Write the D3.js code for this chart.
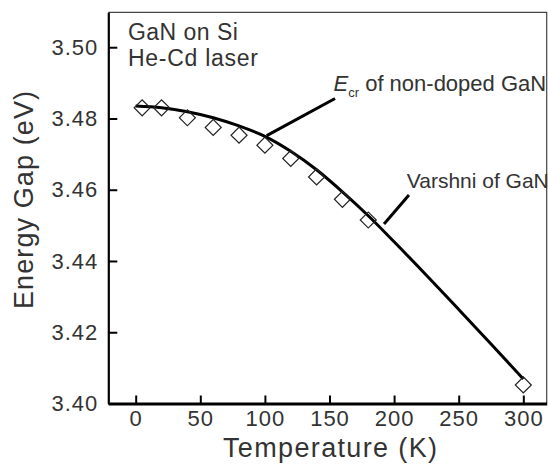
<html>
  <meta charset="utf-8">
  <head>
  <style>
    body {
      margin: 0;
      background: #fff;
    }
    text {
      font-family: "Liberation Sans", Arial, sans-serif;
      fill: #333;
    }
  </style>
  </head>
  <body>
    <div id="elm"></div>

    <script src="https://cdn.jsdelivr.net/npm/d3@7"></script>
    <script>

    'use strict';

    // measured points (diamonds)
    var tempK = [5, 20, 40, 60, 80, 100, 120, 140, 160, 180, 300];
    var gapEv = [3.4830, 3.4830, 3.4802, 3.4775, 3.4753, 3.4725, 3.4688, 3.4636, 3.4573, 3.4515, 3.4052];

    // Varshni fit line
    var fitT = [0, 20, 40, 60, 80, 100, 120, 140, 160, 180, 200, 225, 250, 275, 300];
    var fitE = [3.4835, 3.4830, 3.4819, 3.4802, 3.4779, 3.4750, 3.4708, 3.4656, 3.4594, 3.4527, 3.4454, 3.4360, 3.4264, 3.4167, 3.4069];

    var xTicks = [0, 50, 100, 150, 200, 250, 300];
    var yTicks = [3.40, 3.42, 3.44, 3.46, 3.48, 3.50];

    var W = 548, H = 464;

    var x = d3.scaleLinear().domain([-21.2, 318.1]).range([108.3, 546.7]);
    var y = d3.scaleLinear().domain([3.40, 3.5098]).range([403.5, 12.3]);

    var svg = d3.select('#elm').append('svg')
        .attr('width', W)
        .attr('height', H);

    // top / right frame
    svg.append('path')
        .attr('d', 'M' + x.range()[0] + ',' + y.range()[1] + 'H' + x.range()[1] + 'V' + y.range()[0])
        .attr('fill', 'none')
        .attr('stroke', '#444')
        .attr('stroke-width', 1.2);

    var xAxis = d3.axisBottom(x)
        .tickValues(xTicks)
        .tickSizeInner(-8)
        .tickSizeOuter(0)
        .tickPadding(7)
        .tickFormat(d3.format('d'));

    var gx = svg.append('g')
        .attr('transform', 'translate(0,' + y.range()[0] + ')')
        .call(xAxis);
    gx.select('.domain').attr('stroke', '#000').attr('stroke-width', 3);
    gx.selectAll('.tick line').attr('stroke', '#000').attr('stroke-width', 2);
    gx.selectAll('.tick text')
        .attr('font-size', 22)
        .style('letter-spacing', '1px')
        .attr('fill', '#333');

    var yAxis = d3.axisLeft(y)
        .tickValues(yTicks)
        .tickSizeInner(-9)
        .tickSizeOuter(0)
        .tickPadding(10)
        .tickFormat(d3.format('.2f'));

    var gy = svg.append('g')
        .attr('transform', 'translate(' + x.range()[0] + ',0)')
        .call(yAxis);
    gy.select('.domain').attr('stroke', '#000').attr('stroke-width', 2.2);
    gy.selectAll('.tick line').attr('stroke', '#000').attr('stroke-width', 2);
    gy.selectAll('.tick text')
        .attr('font-size', 22)
        .style('letter-spacing', '1px')
        .attr('fill', '#333');

    // axis titles
    svg.append('text')
        .attr('x', 330)
        .attr('y', 457)
        .attr('text-anchor', 'middle')
        .attr('font-size', 27)
        .attr('textLength', 214)
        .attr('lengthAdjust', 'spacing')
        .text('Temperature (K)');

    svg.append('text')
        .attr('transform', 'translate(33,200) rotate(-90)')
        .attr('text-anchor', 'middle')
        .attr('font-size', 27)
        .attr('textLength', 218)
        .attr('lengthAdjust', 'spacing')
        .text('Energy Gap (eV)');

    // fit curve
    var fit = fitT.map(function(t, i) { return [t, fitE[i]]; });
    svg.append('path')
        .datum(fit)
        .attr('fill', 'none')
        .attr('stroke', '#000')
        .attr('stroke-width', 3)
        .attr('d', d3.line()
            .x(function(d) { return x(d[0]); })
            .y(function(d) { return y(d[1]); })
            .curve(d3.curveMonotoneX));

    // pointers
    var pointers = [
      [[101.4, 3.4752], [154.3, 3.4856]],
      [[192.2, 3.4504], [211.5, 3.4585]]
    ];
    svg.selectAll('.ptr')
        .data(pointers)
        .enter().append('line')
        .attr('class', 'ptr')
        .attr('x1', function(d) { return x(d[0][0]); })
        .attr('y1', function(d) { return y(d[0][1]); })
        .attr('x2', function(d) { return x(d[1][0]); })
        .attr('y2', function(d) { return y(d[1][1]); })
        .attr('stroke', '#000')
        .attr('stroke-width', 3);

    // diamonds
    var pts = tempK.map(function(t, i) { return [t, gapEv[i]]; });
    svg.selectAll('.pt')
        .data(pts)
        .enter().append('path')
        .attr('class', 'pt')
        .attr('d', d3.symbol(d3.symbolSquare).size(128))
        .attr('transform', function(d) { return 'translate(' + x(d[0]) + ',' + y(d[1]) + ') rotate(45)'; })
        .attr('fill', 'none')
        .attr('stroke', '#222')
        .attr('stroke-width', 1.2);

    // labels
    svg.append('text')
        .attr('x', x(-6))
        .attr('y', y(3.5021))
        .attr('font-size', 23)
        .attr('textLength', 110)
        .attr('lengthAdjust', 'spacing')
        .text('GaN on Si');

    svg.append('text')
        .attr('x', x(-6))
        .attr('y', y(3.4947))
        .attr('font-size', 23)
        .attr('textLength', 130)
        .attr('lengthAdjust', 'spacing')
        .text('He-Cd laser');

    var ecr = svg.append('text')
        .attr('x', x(153.1))
        .attr('y', y(3.4878))
        .attr('font-size', 22);
    ecr.append('tspan').style('font-style', 'italic').text('E');
    ecr.append('tspan').attr('font-size', 13).attr('dy', 6).text('cr');
    ecr.append('tspan').attr('dy', -6).text(' of non-doped GaN');

    svg.append('text')
        .attr('x', x(209.8))
        .attr('y', y(3.4604))
        .attr('font-size', 21)
        .text('Varshni of GaN');

    </script>
  </body>
</html>
